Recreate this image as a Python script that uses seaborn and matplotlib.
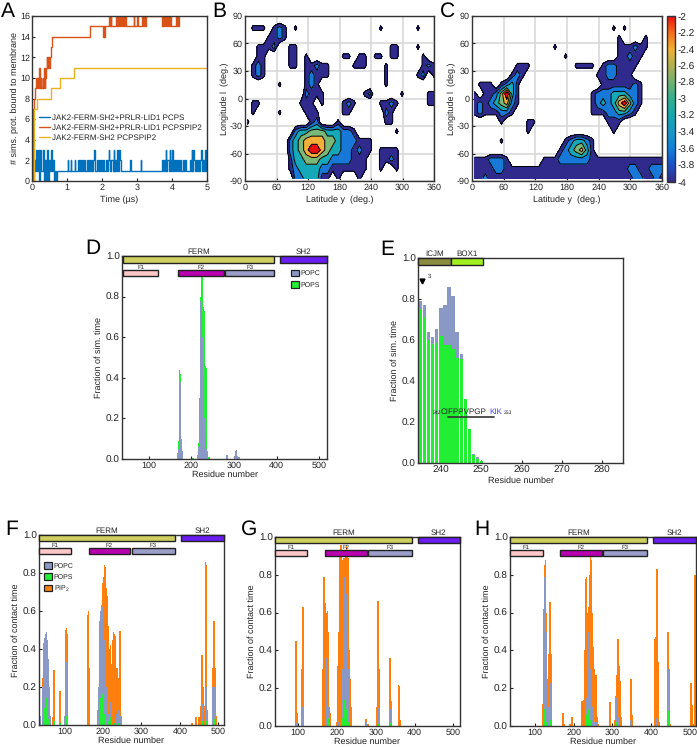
import numpy as np
import pandas as pd
import matplotlib
matplotlib.use('Agg')
import matplotlib.pyplot as plt
import seaborn as sns
from matplotlib.colors import LinearSegmentedColormap, Normalize
from matplotlib.cm import ScalarMappable
from matplotlib.patches import Patch, Rectangle

W, H = 697, 747

# Panel A: membrane binding traces
blue_t = [0, .03, .06, .09, .12, .15, .18, .21, .24, .27, .30, .33, .36, .39, .42, .45, .48, .51, .54, .57, .60, .63,
          .66, .69, .72, .77, 1.02, 1.04, 1.10, 1.12, 1.22, 1.24, 1.30, 1.33, 1.36, 1.39, 1.42, 1.45, 1.48, 1.51,
          1.56, 1.59, 1.62, 1.65, 1.68, 1.71, 1.74, 1.77, 1.79, 1.86, 1.89, 1.92, 1.95, 1.98, 2.01, 2.04, 2.07,
          2.10, 2.13, 2.16, 2.19, 2.21, 2.24, 2.27, 2.30, 2.33, 2.35, 2.38, 2.41, 2.44, 2.46, 2.49, 2.51, 2.54,
          2.80, 2.82, 3.10, 3.12, 3.70, 3.73, 3.76, 3.79, 3.82, 3.84, 3.87, 3.90, 3.93, 3.95, 3.98, 4.01, 4.03,
          4.06, 4.09, 4.12, 4.15, 4.18, 4.21, 4.24, 4.27, 4.30, 4.33, 4.36, 4.39, 4.50, 4.53, 4.56, 4.58, 4.61,
          4.63, 4.66, 4.69, 4.72, 4.75, 4.78, 4.81, 4.84, 4.86, 4.89, 4.92, 4.95, 4.97, 5]
blue_v = [2, 0, 2, 1, 3, 1, 3, 0, 3, 1, 3, 0, 2, 0, 3, 0, 2, 1, 3, 1, 2, 0,
          1, 0, 1, 1, 2, 1, 2, 1, 2, 1, 2, 1, 2, 1, 2, 1, 2, 1,
          2, 1, 2, 1, 2, 1, 2, 3, 1, 2, 1, 2, 1, 2, 1, 2, 1,
          2, 1, 2, 3, 2, 1, 2, 1, 3, 1, 2, 1, 3, 1, 3, 2, 1,
          2, 1, 2, 1, 2, 1, 2, 1, 3, 1, 2, 1, 3, 2, 1, 3, 1,
          2, 1, 2, 1, 2, 1, 2, 1, 2, 1, 2, 1, 2, 1, 3, 1, 3,
          2, 1, 2, 1, 2, 1, 2, 3, 1, 2, 1, 3, 1, 1]
red_t = [0, .02, .04, .07, .09, .11, .13, .15, .17, .19, .21, .23, .25, .27, .30, .32, .34, .36, .38, .40, .42, .44,
         .46, .48, .50, .55, .58, 1.67, 2.03, 2.05, 2.07, 2.09, 2.20, 2.22, 2.25, 2.27, 2.40, 2.43, 2.45, 2.48, 2.50,
         2.53, 2.55, 2.58, 2.60, 2.63, 2.65, 2.68, 2.70, 2.90, 2.92, 3.00, 3.02, 3.15, 3.18, 3.20, 3.22, 3.25,
         3.70, 3.73, 3.75, 3.78, 3.80, 3.83, 3.85, 3.88, 3.90, 3.95, 3.98, 4.00, 4.10, 4.13, 4.15, 4.18, 4.20]
red_v = [0, 3, 7, 8, 9, 10, 9, 10, 9, 10, 11, 9, 10, 9, 10, 9, 11, 9, 10, 11, 12, 11,
         12, 11, 12, 13, 14, 15, 14, 15, 14, 15, 16, 15, 16, 15, 16, 15, 16, 15, 16,
         15, 16, 15, 16, 15, 16, 15, 15, 16, 15, 16, 15, 16, 15, 16, 15, 16,
         15, 16, 15, 16, 15, 16, 15, 16, 15, 16, 15, 15, 16, 15, 16, 15, 16]
yellow_t = [0, .05, .15, .55, .80, 1.20, 5]
yellow_v = [0, 7, 8, 9, 10, 11, 11]
trace_labels = ['JAK2-FERM-SH2+PRLR-LID1 PCPS', 'JAK2-FERM-SH2+PRLR-LID1 PCPSPIP2', 'JAK2-FERM-SH2 PCPSPIP2']

# Panels B, C: density on a 10 degree grid, rows l = 85 ... -85, columns y = 5 ... 355
# '.' is below the lowest contour, digits 1-6 are the six contour bands
density_b = [
    "....................................",
    ".111.121.1...............1......1...",
    "....1121............................",
    "..1112..11.................11...1...",
    "..11....11.1......11.11.11.11....1..",
    ".121....11.11211....111...1......121",
    ".121.......12111..........1.....12.1",
    "......1....121............1.........",
    "...........2111.......12.....1....11",
    ".11.......111.1...121....1121.....11",
    ".1....1....111....11......21........",
    "1...........12...1........11........",
    ".........233444333221.......1.......",
    "........2345555443222111............",
    "........2345665433221211.1111.......",
    "........133444332222111..1121.......",
    "........123333221111111..1..1.......",
    ".........2233311.1...1..............",
]
density_c = [
    "....................................",
    "..........................1.1.......",
    "...........................1....1...",
    "...............1...........111211...",
    ".................1.........11211....",
    "........111........1111.1221111.....",
    ".......121.............1122111......",
    ".111.1231...............11111121....",
    "1.1124631.............1222333221....",
    "121234521.............1232356421....",
    "12111221..............111223321.....",
    ".....1....11.............111........",
    "..........1...............1.........",
    ".....1...........123321.............",
    "................1234531.............",
    "1112221......11122222211111111111111",
    "111122111111111111111111111112211222",
    "112111111111111111111111111111221121",
]
band_values = {'.': -4.45, '1': -3.85, '2': -3.5, '3': -3.15, '4': -2.85, '5': -2.5, '6': -2.05}
lat_centres = np.linspace(5, 360, 36)
lon_centres = np.linspace(87, -87, 18)
contour_levels = [-4, -3.67, -3.33, -3, -2.67, -2.33, -2]
band_colors = ['#2f2a8c', '#1878d8', '#14a8b8', '#7ab878', '#f2b038', '#e81010']
cbar_colors = ['#352a87', '#1a50c8', '#0f7fe0', '#1498c8', '#10a8b0', '#30b090',
               '#70b070', '#b0b050', '#f0b030', '#f86c18', '#e81010']

# Panels D-H: residue -> contact fraction
d_pops = {170: .09, 172: .44, 174: .42, 176: .10, 178: .02, 204: .005, 216: .02, 218: .08, 220: .20, 222: .80,
          224: .90, 226: .90, 228: .75, 230: .73, 232: .46, 234: .45, 236: .05, 238: .04, 240: .01, 242: .01}
d_popc = {168: .03, 170: .05, 172: .30, 174: .38, 176: .10, 178: .04, 180: .04, 218: .06, 220: .30, 222: .78,
          224: .84, 226: .60, 228: .40, 230: .20, 232: .10, 234: .05, 236: .03, 282: .018, 284: .018, 302: .01,
          304: .04, 306: .045, 308: .015, 310: .01, 312: .01}

e_res = list(range(235, 251))
e_popc = [.79, .77, .64, .615, .655, .755, .77, .86, .815, .64, .53, .31, .165, .045, .03, .012]
e_pops = [.75, .71, .60, .58, .585, .62, .575, .575, .555, .51, .505, .31, .165, .04, .02, .012]

f_pip2 = {42: .25, 44: .43, 46: .43, 68: .04, 70: .10, 72: .29, 74: .05, 88: .18, 90: .18, 102: .50, 104: .51,
          106: .48, 108: .30, 160: .58, 162: .60, 164: .30, 190: .50, 192: .50, 194: .50, 196: .50, 198: .60,
          200: .75, 202: .78, 204: .84, 206: .83, 208: .72, 210: .68, 212: .67, 214: .52, 216: .40, 218: .30,
          220: .42, 222: .32, 224: .12, 226: .45, 228: .49, 230: .48, 232: .47, 234: .30, 236: .30, 238: .08,
          240: .25, 242: .42, 244: .495, 246: .495, 248: .05, 430: .008, 432: .008, 442: .04, 444: .04, 450: .04,
          452: .04, 454: .10, 456: .37, 458: .37, 460: .20, 464: .10, 466: .86, 468: .84, 470: .40, 472: .08,
          486: .30, 488: .55, 490: .55, 492: .30, 494: .05}
f_popc = {34: .14, 36: .05, 42: .20, 44: .35, 46: .42, 48: .46, 50: .48, 52: .49, 54: .45, 56: .40, 58: .35, 60: .20,
          62: .05, 70: .10, 100: .05, 102: .20, 104: .33, 106: .20, 108: .05, 186: .08, 188: .20, 190: .48, 192: .55,
          194: .60, 196: .63, 198: .62, 200: .55, 202: .50, 204: .45, 206: .30, 208: .20, 210: .15, 212: .10,
          214: .06, 216: .05, 218: .12, 220: .05, 232: .05, 234: .06, 240: .08, 242: .10, 244: .05, 456: .10,
          458: .11, 466: .20, 468: .20, 486: .20, 488: .23, 490: .20}
f_pops = {34: .05, 44: .09, 46: .09, 48: .09, 50: .14, 52: .14, 54: .10, 56: .05, 58: .03, 72: .02, 88: .01, 102: .03,
          104: .05, 106: .04, 190: .02, 194: .14, 196: .16, 198: .165, 200: .165, 202: .10, 204: .06, 206: .03,
          214: .02, 216: .03, 218: .04, 230: .01, 240: .01, 242: .01, 456: .03, 458: .02, 468: .02, 488: .035,
          490: .03}

g_pip2 = {92: .45, 94: .45, 96: .18, 98: .07, 108: .30, 110: .63, 112: .63, 114: .10, 164: .30, 166: .79, 168: .79,
          170: .65, 172: .45, 174: .60, 176: .61, 178: .50, 180: .10, 182: .07, 200: .02, 202: .32, 204: .50,
          206: .90, 208: .90, 210: .96, 212: .96, 214: .88, 216: .88, 218: .89, 220: .70, 222: .90, 224: .95,
          226: .92, 228: .89, 230: .88, 232: .40, 234: .25, 236: .10, 238: .03, 274: .035, 276: .035, 278: .01,
          280: .01, 282: .01, 302: .10, 304: .66, 306: .66, 308: .30, 310: .08, 336: .36, 338: .36, 340: .13,
          358: .215, 360: .21, 362: .03}
g_popc = {96: .015, 108: .07, 110: .10, 112: .10, 114: .02, 170: .35, 172: .36, 174: .25, 176: .20, 178: .10, 180: .05,
          204: .02, 206: .02, 212: .08, 214: .30, 216: .60, 218: .75, 220: .79, 222: .78, 224: .70, 226: .45,
          228: .30, 230: .15, 232: .05, 274: .03, 276: .02, 304: .08, 306: .095, 308: .05, 336: .10, 338: .09,
          340: .03}
g_pops = {176: .05, 178: .04, 212: .02, 214: .04, 216: .07, 218: .13, 220: .14, 222: .12, 224: .09, 226: .05,
          228: .02, 304: .015, 306: .01, 336: .02, 338: .015}

h_pip2 = {120: .115, 122: .115, 124: .60, 126: .85, 128: .88, 130: .60, 132: .25, 134: .05, 136: .38, 138: .655,
          140: .655, 142: .38, 144: .05, 172: .07, 174: .07, 176: .01, 190: .01, 192: .01, 194: .05, 196: .05,
          198: .01, 222: .13, 224: .13, 226: .14, 228: .40, 230: .50, 232: .78, 234: .79, 236: .60, 238: .63,
          240: .59, 242: .80, 244: .90, 246: .88, 248: .60, 250: .42, 252: .35, 254: .30, 256: .10, 258: .27,
          260: .26, 262: .05, 264: .01, 292: .12, 294: .125, 306: .03, 308: .16, 310: .27, 312: .16, 314: .46,
          316: .46, 318: .32, 320: .24, 322: .24, 324: .05, 346: .20, 348: .25, 350: .25, 352: .06, 408: .02,
          410: .46, 412: .47, 414: .83, 416: .83, 418: .34, 420: .33, 422: .02, 442: .05, 444: .50, 446: .50,
          448: .30, 450: .01, 502: .23, 504: .23, 506: .11, 508: .01, 512: .80, 514: .80}
h_popc = {122: .20, 124: .62, 126: .79, 128: .79, 130: .50, 132: .10, 136: .10, 138: .30, 140: .23, 142: .05, 230: .05,
          232: .11, 234: .15, 236: .20, 238: .33, 240: .50, 242: .50, 244: .30, 246: .15, 248: .10, 250: .06,
          252: .04, 254: .02, 258: .02, 260: .02, 308: .10, 310: .15, 312: .13, 314: .08, 316: .05, 348: .03,
          350: .03, 412: .03, 414: .04, 416: .03, 442: .05, 444: .30, 446: .30, 448: .05}
h_pops = {124: .09, 126: .09, 128: .05, 130: .02, 138: .03, 140: .03, 142: .02, 232: .03, 234: .06, 236: .09, 238: .09,
          240: .09, 242: .07, 244: .03, 246: .01, 308: .02, 310: .02, 312: .01, 444: .06, 446: .08, 448: .02}

grid_res = list(range(34, 518, 2))
fractions_ticks = [0, .2, .4, .6, .8, 1]

# Domain bars (start, end, name)
ferm_domain = [(40, 393, 'FERM', '#cfcf5f')]
sh2_domain = [(408, 518, 'SH2', '#6a1df0')]
sub_domains = [(40, 123, 'F1', '#ffc8c8'), (168, 276, 'F2', '#b800b0'), (280, 393, 'F3', '#9a9ec8')]

POPC = '#8a98c6'
POPS = '#22ee33'
PIP2 = '#ff7f0e'
INK = '#222222'
LABEL_SIZE = 6.8

sns.set_theme(style='ticks')
plt.rcParams['font.family'] = ['Liberation Sans', 'DejaVu Sans']
plt.rcParams['text.hinting'] = 'no_hinting'
plt.rcParams['text.hinting_factor'] = 1
plt.rcParams['axes.unicode_minus'] = False
plt.rcParams['mathtext.default'] = 'regular'
plt.rcParams['axes.linewidth'] = 1.0
plt.rcParams['axes.edgecolor'] = '#333333'
plt.rcParams['text.color'] = INK
plt.rcParams['axes.labelcolor'] = INK
plt.rcParams['xtick.color'] = INK
plt.rcParams['ytick.color'] = INK

fig = plt.figure(figsize=(W / 100, H / 100), dpi=100)


def add_panel(x0, y0, x1, y1, xsize=6.5, ysize=6.5):
    """Axes from pixel box, y measured from the top of the picture."""
    ax = fig.add_axes([x0 / W, 1 - y1 / H, (x1 - x0) / W, (y1 - y0) / H])
    ax.tick_params(direction='in', length=2, width=.8, pad=2)
    ax.tick_params(axis='x', labelsize=xsize)
    ax.tick_params(axis='y', labelsize=ysize, pad=1.5)
    ax.set_axisbelow(True)
    return ax


def density_grid(rows):
    return np.array([[band_values[c] for c in row.ljust(36, '.')] for row in rows])


def plot_density(ax, rows):
    grid = density_grid(rows)
    ax.grid(True, color='#d9d9d9', lw=1.2)
    ax.contourf(lat_centres, lon_centres, grid, levels=contour_levels, colors=band_colors)
    ax.contour(lat_centres, lon_centres, grid, levels=contour_levels, colors='black', linewidths=.7, linestyles='solid')
    ax.set_xlim(0, 360)
    ax.set_ylim(-90, 90)
    ax.set_xticks(range(0, 361, 60))
    ax.set_yticks(range(-90, 91, 30))
    ax.set_xlabel('Latitude y  (deg.)', fontsize=LABEL_SIZE, labelpad=2.5)
    ax.set_ylabel('Longitude l  (deg.)', fontsize=LABEL_SIZE, labelpad=1)


def draw_domains(ax, shift, right):
    for start, end, name, colour in ferm_domain + sh2_domain:
        stop = right if name == 'SH2' else end + shift
        ax.add_patch(Rectangle((start + shift, .967), stop - start - shift, .033, fc=colour, ec='#222222', lw=1,
                               clip_on=False, zorder=5))
        ax.text((start + shift + stop) / 2, 1.003, name, ha='center', va='bottom', fontsize=6.1)
    for start, end, name, colour in sub_domains:
        ax.add_patch(Rectangle((start + shift, .90), end - start, .03, fc=colour, ec='#222222', lw=1, clip_on=False,
                               zorder=5))
        ax.text(start + shift + (end - start) / 2, .93, name, ha='center', va='bottom', fontsize=4.4)


def peak_values(peaks):
    return [peaks.get(r, 0) for r in grid_res]


def plot_contacts(ax, series, xlim, ylabel, ysize_label=LABEL_SIZE, shift=0):
    for peaks, colour in series:
        sns.barplot(x=grid_res, y=peak_values(peaks), native_scale=True, orient='x', width=1.6, color=colour,
                    saturation=1, linewidth=0, errorbar=None, ax=ax)
    ax.set_xlim(*xlim)
    ax.set_ylim(0, 1)
    ax.set_xticks([100, 200, 300, 400, 500])
    ax.set_yticks(fractions_ticks)
    ax.set_yticklabels([f'{v:.1f}' for v in fractions_ticks])
    ax.set_xlabel('Residue number', fontsize=LABEL_SIZE, labelpad=0)
    ax.set_ylabel(ylabel, fontsize=ysize_label, labelpad=2)
    draw_domains(ax, shift, xlim[1])


def lipid_legend(ax, names, anchor, spacing):
    handles = [Patch(fc=c, ec='#222222', lw=.9, label=n) for n, c in names]
    ax.legend(handles=handles, loc='upper left', bbox_to_anchor=anchor, frameon=False, fontsize=4.7, handlelength=1.3,
              handleheight=1.2, handletextpad=.2, labelspacing=spacing, borderpad=0, borderaxespad=0)


# A
ax = add_panel(32, 16, 207, 181)
for t, v, colour, name in [(blue_t, blue_v, '#0072BD', trace_labels[0]),
                           (red_t, red_v, '#D95319', trace_labels[1]),
                           (yellow_t, yellow_v, '#EDB120', trace_labels[2])]:
    sns.lineplot(x=t, y=v, drawstyle='steps-post', estimator=None, sort=False, errorbar=None, color=colour, lw=1,
                 label=name, ax=ax)
ax.set_xlim(0, 5)
ax.set_ylim(0, 16)
ax.set_yticks(range(0, 17, 2))
ax.set_xlabel('Time (µs)', fontsize=LABEL_SIZE, labelpad=2.5)
ax.set_ylabel('# sims. prot. bound to membrane', fontsize=LABEL_SIZE, labelpad=1)
ax.legend(loc='upper left', bbox_to_anchor=(.04, .406), frameon=False, fontsize=5.7, handlelength=1.4, handletextpad=.25,
          labelspacing=.35, borderpad=0, borderaxespad=0)

# B
ax = add_panel(245, 16, 434, 181)
plot_density(ax, density_b)

# C
ax = add_panel(472, 16, 662, 181)
plot_density(ax, density_c)

cax = fig.add_axes([667 / W, 1 - 182 / H, 8 / W, 166 / H])
cmap = LinearSegmentedColormap.from_list('density', cbar_colors)
cb = fig.colorbar(ScalarMappable(Normalize(-4, -2), cmap), cax=cax)
cb.set_ticks(np.arange(-4, -1.9, .2))
cb.set_ticklabels(['-4', '-3.8', '-3.6', '-3.4', '-3.2', '-3', '-2.8', '-2.6', '-2.4', '-2.2', '-2'])
cb.ax.tick_params(direction='in', length=2, width=.8, labelsize=7, pad=1.5)
cb.outline.set_linewidth(1)

# D
ax = add_panel(122, 256, 327, 459, xsize=6.8, ysize=7.5)
plot_contacts(ax, [(d_pops, POPS), (d_popc, POPC)], (37.5, 518), 'Fraction of sim. time')
lipid_legend(ax, [('POPC', POPC), ('POPS', POPS)], (.823, .932), .7)

# E
ax = add_panel(418, 258, 623, 463, xsize=7, ysize=7.2)
sns.barplot(x=e_res, y=e_popc, native_scale=True, orient='x', width=.78, color=POPC, saturation=1, linewidth=0,
            errorbar=None, ax=ax)
sns.barplot(x=e_res, y=e_pops, native_scale=True, orient='x', width=.78, color=POPS, saturation=1, linewidth=0,
            errorbar=None, ax=ax)
ax.set_xlim(234.3, 285.2)
ax.set_ylim(0, 1)
ax.set_xticks([240, 250, 260, 270, 280])
ax.set_yticks(fractions_ticks)
ax.set_yticklabels([f'{v:.1f}' for v in fractions_ticks])
ax.set_xlabel('Residue number', fontsize=LABEL_SIZE, labelpad=1)
ax.set_ylabel('Fraction of sim. time', fontsize=LABEL_SIZE, labelpad=2)
for start, end, name, colour in [(234.4, 242.5, 'ICJM', '#8a8a40'), (242.5, 250.4, 'BOX1', '#a0f020')]:
    ax.add_patch(Rectangle((start, .964), end - start, .036, fc=colour, ec='#222222', lw=1, clip_on=False, zorder=5))
    ax.text((start + end) / 2, 1.004, name, ha='center', va='bottom', fontsize=6.1)
ax.plot([235.2], [.89], marker='v', ms=3.5, color='black', ls='none')
ax.text(237.1, .91, '3', fontsize=4, ha='center', va='center')
ax.text(238, .237, '242', fontsize=3.6, ha='left', va='baseline')
ax.text(240, .24, 'CIFPPVPGP', fontsize=6.1, ha='left', va='baseline')
ax.text(252.1, .24, 'KIK', fontsize=6.1, ha='left', va='baseline', color='#4444ee')
ax.text(255.6, .237, '253', fontsize=3.6, ha='left', va='baseline')
ax.plot([241.8, 253.2], [.226, .226], color='#333333', lw=1.2)

# F, G, H
ax = add_panel(39, 535, 224, 725, ysize=7.5)
plot_contacts(ax, [(f_pip2, PIP2), (f_popc, POPC), (f_pops, POPS)], (33, 515), 'Fraction of contact time', 6.6, shift=-6)
lipid_legend(ax, [('POPC', POPC), ('POPS', POPS), ('PIP$_2$', PIP2)], (.027, .856), .55)

ax = add_panel(275, 537, 460, 726, ysize=7.5)
plot_contacts(ax, [(g_pip2, PIP2), (g_popc, POPC), (g_pops, POPS)], (40, 517), 'Fraction of contact time', 6.6)

ax = add_panel(510, 537, 696, 726, ysize=7.5)
plot_contacts(ax, [(h_pip2, PIP2), (h_popc, POPC), (h_pops, POPS)], (36, 516), 'Fraction of contact time', 6.6, shift=-3)

for x, y, s in [(1, 17, 'A'), (212, 17, 'B'), (440, 17, 'C'), (85, 254, 'D'), (380, 255, 'E'),
                (5, 535, 'F'), (241, 535, 'G'), (474, 535, 'H')]:
    fig.text(x / W, 1 - y / H, s, fontsize=15, color='black', va='baseline')

fig.savefig('out.png', dpi=100)
